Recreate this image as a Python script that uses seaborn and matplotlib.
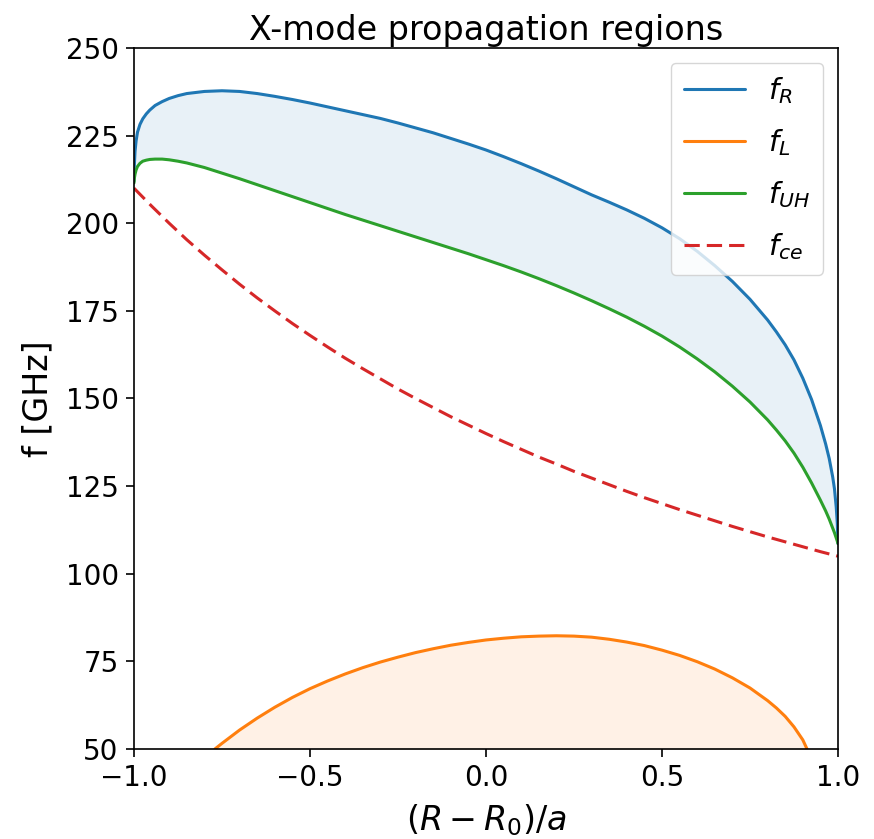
import numpy as np
import pandas as pd
import matplotlib
matplotlib.use('Agg')
import matplotlib.pyplot as plt
import seaborn as sns

# values
x_grid = [-1.0, -0.999, -0.997, -0.994, -0.99, -0.983, -0.975, -0.965, -0.955, -0.94, -0.92,
          -0.9, -0.875, -0.85, -0.8, -0.75, -0.7, -0.65, -0.6, -0.55, -0.5, -0.45, -0.4,
          -0.35, -0.3, -0.25, -0.2, -0.15, -0.1, -0.05, 0.0, 0.05, 0.1, 0.15, 0.2, 0.25,
          0.3, 0.35, 0.4, 0.45, 0.5, 0.55, 0.6, 0.65, 0.7, 0.75, 0.8, 0.825, 0.85, 0.875, 0.9,
          0.925, 0.95, 0.965, 0.975, 0.985, 0.99, 0.995, 0.998, 1.0]
f_R = [212.0, 216.5, 220.5, 223.5, 226.0, 228.2, 229.8, 231.2, 232.3, 233.6, 234.7,
       235.6, 236.4, 237.0, 237.6, 237.8, 237.6, 237.0, 236.2, 235.3, 234.3, 233.2, 232.1,
       231.0, 229.9, 228.6, 227.2, 225.8, 224.2, 222.6, 220.9, 219.0, 217.0, 214.9, 212.7, 210.4,
       208.1, 206.0, 203.8, 201.4, 198.7, 195.6, 192.0, 187.9, 183.4, 178.3, 172.4, 169.0, 165.3, 161.0, 155.8,
       149.7, 142.3, 137.0, 132.9, 127.6, 124.2, 119.0, 114.5, 108.6]
f_UH = [211.5, 212.8, 214.0, 215.2, 216.2, 217.1, 217.7, 218.0, 218.2, 218.3, 218.3,
        218.1, 217.7, 217.2, 215.9, 214.3, 212.7, 211.0, 209.3, 207.6, 205.9, 204.2, 202.5,
        200.9, 199.3, 197.7, 196.1, 194.5, 192.9, 191.3, 189.6, 187.9, 186.1, 184.2, 182.2, 180.1,
        177.9, 175.6, 173.2, 170.6, 167.8, 164.7, 161.3, 157.6, 153.5, 149.0, 143.9, 141.0, 137.9, 134.4, 130.4,
        125.9, 121.0, 117.9, 115.6, 113.0, 111.7, 110.2, 109.3, 108.6]

x_L = [-0.77, -0.75, -0.7, -0.65, -0.6, -0.55, -0.5, -0.45, -0.4, -0.35, -0.3, -0.25,
       -0.2, -0.15, -0.1, -0.05, 0.0, 0.05, 0.1, 0.15, 0.2, 0.25, 0.3, 0.35, 0.4, 0.45,
       0.5, 0.55, 0.6, 0.65, 0.7, 0.75, 0.8, 0.825, 0.85, 0.875, 0.9, 0.912]
f_L = [50.0, 51.6, 55.4, 58.8, 61.9, 64.7, 67.2, 69.4, 71.4, 73.2, 74.8, 76.2,
       77.5, 78.6, 79.6, 80.4, 81.1, 81.6, 82.0, 82.2, 82.3, 82.2, 81.9, 81.3, 80.5, 79.5,
       78.2, 76.7, 74.9, 72.8, 70.3, 67.4, 63.8, 61.7, 59.3, 56.3, 52.6, 50.0]

x_ce = [-1.0, -0.95, -0.9, -0.85, -0.8, -0.75, -0.7, -0.65, -0.6, -0.55, -0.5, -0.45, -0.4,
        -0.35, -0.3, -0.25, -0.2, -0.15, -0.1, -0.05, 0.0, 0.05, 0.1, 0.15, 0.2, 0.25, 0.3,
        0.35, 0.4, 0.45, 0.5, 0.55, 0.6, 0.65, 0.7, 0.75, 0.8, 0.85, 0.9, 0.95, 1.0]
f_ce = [210.0, 204.9, 200.0, 195.3, 190.9, 186.7, 182.6, 178.7, 175.0, 171.4, 168.0, 164.7, 161.5,
        158.5, 155.6, 152.7, 150.0, 147.4, 144.8, 142.4, 140.0, 137.7, 135.5, 133.3, 131.3, 129.2, 127.3,
        125.4, 123.5, 121.7, 120.0, 118.3, 116.7, 115.1, 113.5, 112.0, 110.5, 109.1, 107.7, 106.3, 105.0]

sns.set_style('ticks')
plt.rcParams['font.family'] = ['DejaVu Sans']
plt.rcParams['mathtext.fontset'] = 'dejavusans'
for k in ['text.color', 'axes.labelcolor', 'xtick.color', 'ytick.color', 'axes.edgecolor']:
    plt.rcParams[k] = 'black'

fig, ax = plt.subplots(figsize=(8.74, 8.39), dpi=100)
fig.subplots_adjust(left=0.1533, right=0.9588, top=0.9428, bottom=0.1073)

sns.lineplot(x=x_grid, y=f_R, ax=ax, color='C0', lw=2.2, label=r'$f_R$')
sns.lineplot(x=x_L, y=f_L, ax=ax, color='C1', lw=2.2, label=r'$f_L$')
sns.lineplot(x=x_grid, y=f_UH, ax=ax, color='C2', lw=2.2, label=r'$f_{UH}$')
sns.lineplot(x=x_ce, y=f_ce, ax=ax, color='C3', lw=2.2, label=r'$f_{ce}$')
ax.lines[-1].set_dashes([5, 2.3])

# propagation regions
ax.fill_between(x_grid, f_UH, f_R, color='C0', alpha=0.1, lw=0)
ax.fill_between(x_L, 0, f_L, color='C1', alpha=0.1, lw=0)

ax.set_xlim(-1, 1)
ax.set_ylim(50, 250)
ax.set_yticks(np.arange(50, 251, 25))
ax.set_xticks([-1.0, -0.5, 0.0, 0.5, 1.0])
ax.tick_params(labelsize=20, width=1.2, length=6, pad=5)
for s in ax.spines.values():
    s.set_linewidth(1.2)
ax.set_xlabel(r'$(R-R_0)/a$', fontsize=24, labelpad=7)
ax.set_ylabel('f [GHz]', fontsize=24, labelpad=8)
ax.set_title('X-mode propagation regions', fontsize=24)
ax.legend(loc='upper right', fontsize=21, handlelength=2.1, labelspacing=0.72, borderpad=0.45)

fig.savefig('out.png', dpi=100)
